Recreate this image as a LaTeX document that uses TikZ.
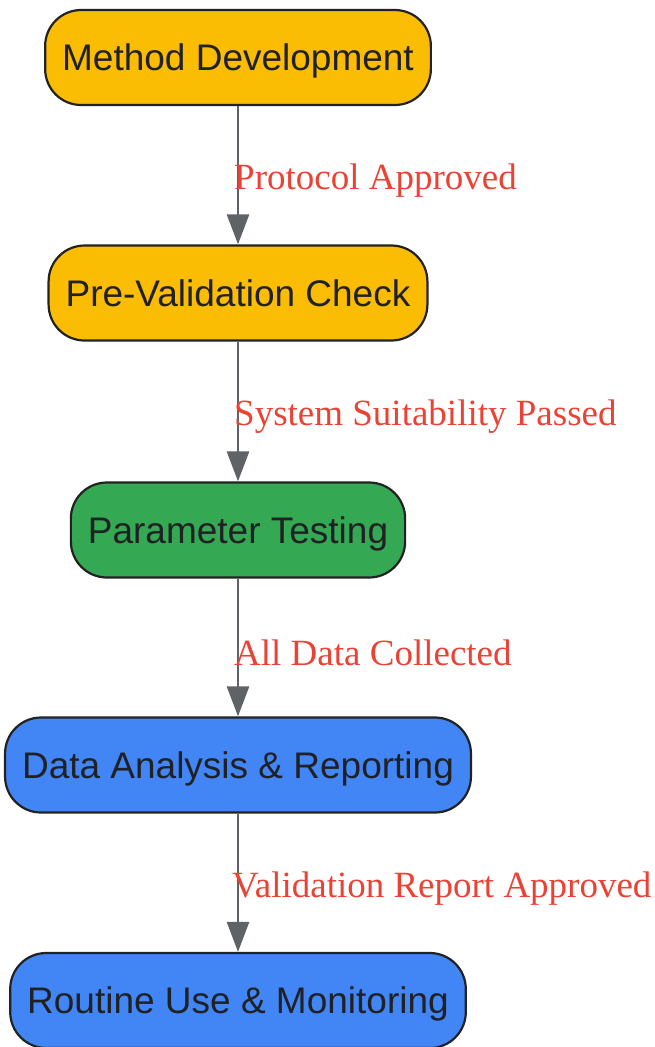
\documentclass[tikz,border=0pt]{standalone}
\usepackage{fontspec}
\setmainfont{Liberation Serif}
\newfontfamily\boxfont{Liberation Sans}
\usetikzlibrary{arrows.meta}

\definecolor{stepyellow}{HTML}{FBBC04}
\definecolor{stepgreen}{HTML}{34A853}
\definecolor{stepblue}{HTML}{4285F4}
\definecolor{boxline}{HTML}{222222}
\definecolor{boxtext}{HTML}{202124}
\definecolor{flowgray}{HTML}{5F6368}
\definecolor{labelred}{HTML}{EA4335}

\tikzset{
  stage/.style={draw=boxline, line width=2.2pt, rounded corners=36pt,
    minimum height=95pt, inner xsep=17pt, text=boxtext, text depth=0pt,
    font=\boxfont\fontsize{37}{44}\selectfont},
  flow/.style={draw=flowgray, line width=2.6pt,
    -{Triangle[width=22pt,length=30pt]}},
  cond/.style={anchor=west, inner sep=0pt, text=labelred,
    font=\fontsize{37}{44}\selectfont}
}

\begin{document}
\begin{tikzpicture}[x=1pt,y=-1pt]

    \useasboundingbox (0,0) rectangle (655,1047);

    \node[stage, fill=stepyellow] (dev) at (238,57.5) {Method Development};
    \node[stage, fill=stepyellow] (precheck) at (238,293) {Pre-Validation Check};
    \node[stage, fill=stepgreen] (testing) at (238,530) {Parameter Testing};
    \node[stage, fill=stepblue] (analysis) at (238,765) {Data Analysis \& Reporting};
    \node[stage, fill=stepblue] (routine) at (238,1000.5) {Routine Use \& Monitoring};


    \draw[flow] (dev) -- (precheck);
    \draw[flow] (precheck) -- (testing);
    \draw[flow] (testing) -- (analysis);
    \draw[flow] (analysis) -- (routine);


    \node[cond] (l1) at (234,181) {Protocol Approved};
    \node[cond] (l2) at (234,417) {System Suitability Passed};
    \node[cond] (l3) at (234,653) {All Data Collected};
    \node[cond] (l4) at (232,889) {Validation Report Approved};

\end{tikzpicture}
\end{document}
